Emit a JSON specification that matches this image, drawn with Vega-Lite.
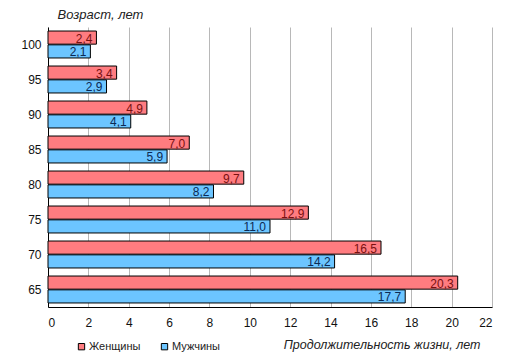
{
  "$schema": "https://vega.github.io/schema/vega-lite/v6.json",
  "width": 444,
  "height": 280,
  "autosize": {"type": "none"},
  "padding": {"left": 48, "top": 27, "right": 21, "bottom": 52},
  "background": "white",
  "config": {
    "font": "Liberation Sans",
    "view": {"stroke": null}
  },
  "data": {
    "values": [
      {"age": "100", "sex": "Женщины", "value": 2.4, "label": "2,4"},
      {"age": "100", "sex": "Мужчины", "value": 2.1, "label": "2,1"},
      {"age": "95", "sex": "Женщины", "value": 3.4, "label": "3,4"},
      {"age": "95", "sex": "Мужчины", "value": 2.9, "label": "2,9"},
      {"age": "90", "sex": "Женщины", "value": 4.9, "label": "4,9"},
      {"age": "90", "sex": "Мужчины", "value": 4.1, "label": "4,1"},
      {"age": "85", "sex": "Женщины", "value": 7.0, "label": "7,0"},
      {"age": "85", "sex": "Мужчины", "value": 5.9, "label": "5,9"},
      {"age": "80", "sex": "Женщины", "value": 9.7, "label": "9,7"},
      {"age": "80", "sex": "Мужчины", "value": 8.2, "label": "8,2"},
      {"age": "75", "sex": "Женщины", "value": 12.9, "label": "12,9"},
      {"age": "75", "sex": "Мужчины", "value": 11.0, "label": "11,0"},
      {"age": "70", "sex": "Женщины", "value": 16.5, "label": "16,5"},
      {"age": "70", "sex": "Мужчины", "value": 14.2, "label": "14,2"},
      {"age": "65", "sex": "Женщины", "value": 20.3, "label": "20,3"},
      {"age": "65", "sex": "Мужчины", "value": 17.7, "label": "17,7"}
    ]
  },
  "encoding": {
    "y": {
      "field": "age",
      "type": "nominal",
      "sort": ["100", "95", "90", "85", "80", "75", "70", "65"],
      "scale": {"paddingInner": 0.23, "paddingOuter": 0.115},
      "axis": {
        "title": "Возраст, лет",
        "titleAngle": 0,
        "titleAlign": "left",
        "titleBaseline": "alphabetic",
        "titleX": 9,
        "titleY": -9,
        "titleFont": "Liberation Sans",
        "titleFontSize": 13,
        "titleFontStyle": "italic",
        "titleFontWeight": "normal",
        "titleColor": "#222222",
        "labelFontSize": 12,
        "labelColor": "#111111",
        "labelPadding": 7,
        "ticks": false,
        "domainColor": "#000000",
        "domainWidth": 1
      }
    },
    "yOffset": {
      "field": "sex",
      "type": "nominal",
      "scale": {"domain": ["Женщины", "Мужчины"], "paddingInner": 0.05}
    },
    "x": {
      "field": "value",
      "type": "quantitative",
      "scale": {"domain": [0, 22], "nice": false},
      "axis": {
        "values": [0, 2, 4, 6, 8, 10, 12, 14, 16, 18, 20, 22],
        "title": "Продолжительность жизни, лет",
        "titleAlign": "right",
        "titleAnchor": "end",
        "titleBaseline": "alphabetic",
        "titleX": 432,
        "titleY": 41,
        "titleFontSize": 12.5,
        "titleFontStyle": "italic",
        "titleFontWeight": "normal",
        "titleColor": "#222222",
        "labelFontSize": 12,
        "labelColor": "#111111",
        "labelPadding": 10,
        "ticks": false,
        "grid": true,
        "gridColor": "#b8b8b8",
        "gridWidth": 1,
        "domainColor": "#000000",
        "domainWidth": 1
      }
    }
  },
  "layer": [
    {
      "mark": {"type": "bar", "stroke": "#000000", "strokeWidth": 1},
      "encoding": {
        "color": {
          "field": "sex",
          "type": "nominal",
          "scale": {"domain": ["Женщины", "Мужчины"], "range": ["#FF7C80", "#6CC5FF"]},
          "legend": {
            "orient": "none",
            "legendX": 28,
            "legendY": 314,
            "direction": "horizontal",
            "title": null,
            "symbolType": "square",
            "symbolSize": 40,
            "symbolStrokeColor": "#000000",
            "symbolStrokeWidth": 1,
            "symbolOpacity": 1,
            "labelFontSize": 11,
            "labelColor": "#222222",
            "labelOffset": 2,
            "columnPadding": 18
          }
        }
      }
    },
    {
      "mark": {"type": "text", "align": "right", "baseline": "middle", "dx": -4, "dy": 1, "fontSize": 12},
      "encoding": {
        "text": {"field": "label"},
        "fill": {
          "field": "sex",
          "type": "nominal",
          "scale": {"domain": ["Женщины", "Мужчины"], "range": ["#7a1010", "#0b2a55"]},
          "legend": null
        }
      }
    }
  ]
}
